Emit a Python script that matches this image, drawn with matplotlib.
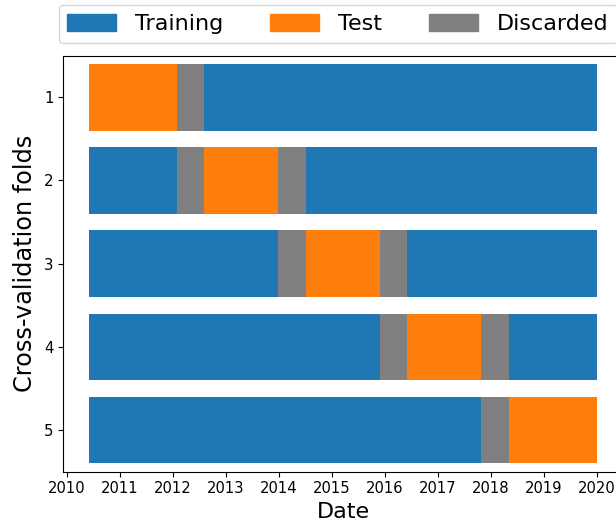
import matplotlib
matplotlib.use('Agg')
import matplotlib.pyplot as plt
from matplotlib.patches import Patch

# fold boundaries in decimal years
data_start = 2010.415
data_end = 2020.011
test_start = [2010.415, 2012.596, 2014.514, 2016.423, 2018.352]
test_end = [2012.074, 2013.991, 2015.914, 2017.824, 2020.011]
discard_before = [None, 2012.074, 2013.991, 2015.914, 2017.824]
discard_after = [2012.596, 2014.514, 2016.423, 2018.352, None]
folds = [1, 2, 3, 4, 5]
years = list(range(2010, 2021))

c_train = '#1f77b4'
c_test = '#ff7f0e'
c_disc = '#808080'

fig = plt.figure(figsize=(6.16, 5.22), dpi=100)
ax = fig.add_axes([0.1028, 0.0964, 0.908, 0.797])

h = 0.8
for i, f in enumerate(folds):
    # full training span first, then overlay test / discarded parts
    ax.barh(f, data_end - data_start, left=data_start, height=h, color=c_train)
    ax.barh(f, test_end[i] - test_start[i], left=test_start[i], height=h, color=c_test)
    if discard_before[i] is not None:
        ax.barh(f, test_start[i] - discard_before[i], left=discard_before[i], height=h, color=c_disc)
    if discard_after[i] is not None:
        ax.barh(f, discard_after[i] - test_end[i], left=test_end[i], height=h, color=c_disc)

span = data_end - data_start
ax.set_xlim(data_start - 0.05 * span, data_end + 0.05 * span)
ax.set_ylim(5.5, 0.5)
ax.set_yticks(folds)
ax.set_yticklabels([str(f) for f in folds], fontsize=10.8)
ax.set_xticks(years)
ax.set_xticklabels([str(y) for y in years], fontsize=10.6)
ax.set_xlabel('Date', fontsize=16, labelpad=4)
ax.set_ylabel('Cross-validation folds', fontsize=17.3, labelpad=5)

handles = [Patch(color=c_train, label='Training'),
           Patch(color=c_test, label='Test'),
           Patch(color=c_disc, label='Discarded')]
fig.legend(handles=handles, loc='upper left', bbox_to_anchor=(58.5 / 616, 1 - 4.7 / 522),
           borderaxespad=0, ncol=3, fontsize=16, handlelength=2.2, handleheight=0.8,
           handletextpad=0.86, columnspacing=2.1)

fig.savefig('out.png', dpi=100)
